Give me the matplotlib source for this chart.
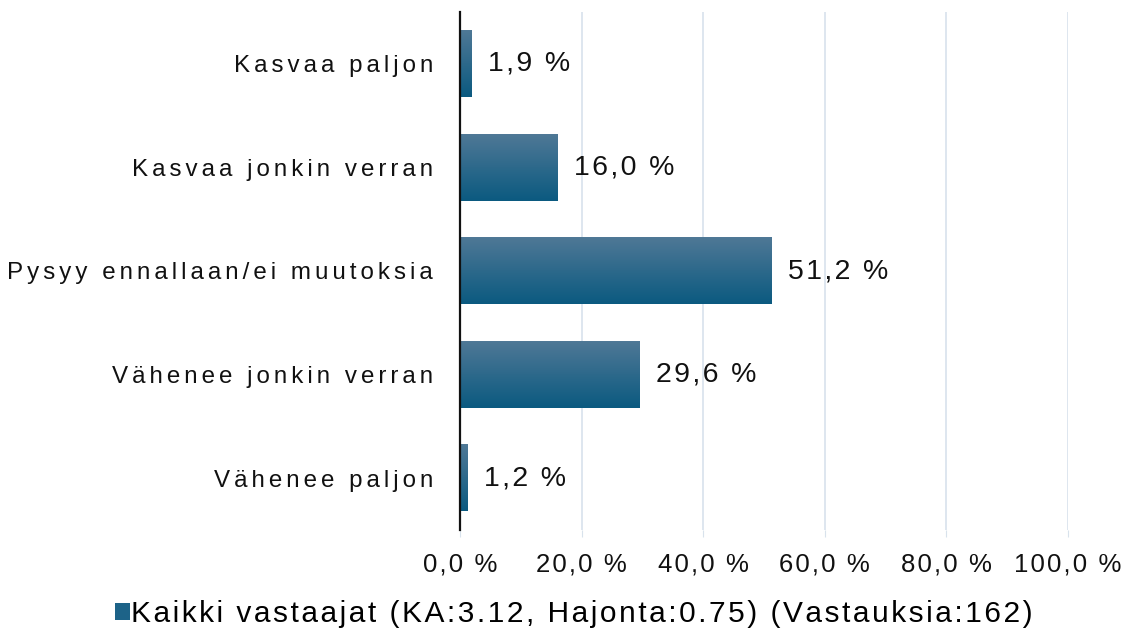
import matplotlib
matplotlib.use("Agg")
import matplotlib.pyplot as plt
import numpy as np
from matplotlib.colors import LinearSegmentedColormap
from matplotlib.patches import Patch

categories = [
    "Kasvaa paljon",
    "Kasvaa jonkin verran",
    "Pysyy ennallaan/ei muutoksia",
    "Vähenee jonkin verran",
    "Vähenee paljon",
]
values = [1.9, 16.0, 51.2, 29.6, 1.2]
x_ticks = [0, 20, 40, 60, 80, 100]
legend_label = "Kaikki vastaajat (KA:3.12, Hajonta:0.75) (Vastauksia:162)"

TOP_COLOR = "#4f7896"
BOTTOM_COLOR = "#0b5a80"
GRID_COLOR = "#d8e2ec"

plt.rcParams["font.family"] = ["Liberation Sans", "DejaVu Sans"]


def spaced(text, gap="\u200a"):
    # imitation of the wide letter spacing in the original
    return gap.join(text)


def fmt(v):
    return f"{v:.1f}".replace(".", ",") + " %"


fig = plt.figure(figsize=(11.3, 6.3), dpi=100)
ax = fig.add_axes([460 / 1130, 1 - 530 / 630, 608 / 1130, 518 / 630])

ypos = np.arange(len(categories))
bars = ax.barh(ypos, values, height=0.64, color="none", zorder=3)

cmap = LinearSegmentedColormap.from_list("bar", [TOP_COLOR, BOTTOM_COLOR])
grad = np.linspace(0, 1, 64).reshape(-1, 1)
for bar in bars:
    x0, y0 = bar.get_x(), bar.get_y()
    w, h = bar.get_width(), bar.get_height()
    ax.imshow(grad, cmap=cmap, aspect="auto", origin="upper",
              extent=(x0, x0 + w, y0 + h, y0), zorder=3)

for y, v in zip(ypos, values):
    ax.text(v + 2.7, y, spaced(fmt(v)), va="center", ha="left",
            fontsize=20.5, color="#111111", zorder=4)

ax.set_xlim(0, 100)
ax.set_ylim(len(categories) - 0.5, -0.5)
ax.set_xticks(x_ticks)
ax.set_xticklabels([spaced(fmt(t)) for t in x_ticks], fontsize=18.5, color="#111111")
ax.set_yticks(ypos)
ax.set_yticklabels([spaced(c, "\u200a\u200a") for c in categories], fontsize=17.4, color="#111111")
ax.tick_params(axis="y", length=0, pad=19.5)
ax.tick_params(axis="x", length=5, color=GRID_COLOR, pad=11)

ax.grid(axis="x", color=GRID_COLOR, linewidth=1.2, zorder=0)
for side in ["top", "right", "bottom"]:
    ax.spines[side].set_visible(False)
ax.spines["left"].set_color("#111111")
ax.spines["left"].set_linewidth(1.6)
ax.spines["left"].set_zorder(5)

handle = Patch(facecolor="#1d6388", edgecolor="none")
fig.legend([handle], [spaced(legend_label)], loc="center",
           bbox_to_anchor=(574 / 1130, 1 - 614 / 630), frameon=False,
           fontsize=21.5, handlelength=0.5, handleheight=0.5, handletextpad=0.05)

fig.savefig("out.png", dpi=100)
